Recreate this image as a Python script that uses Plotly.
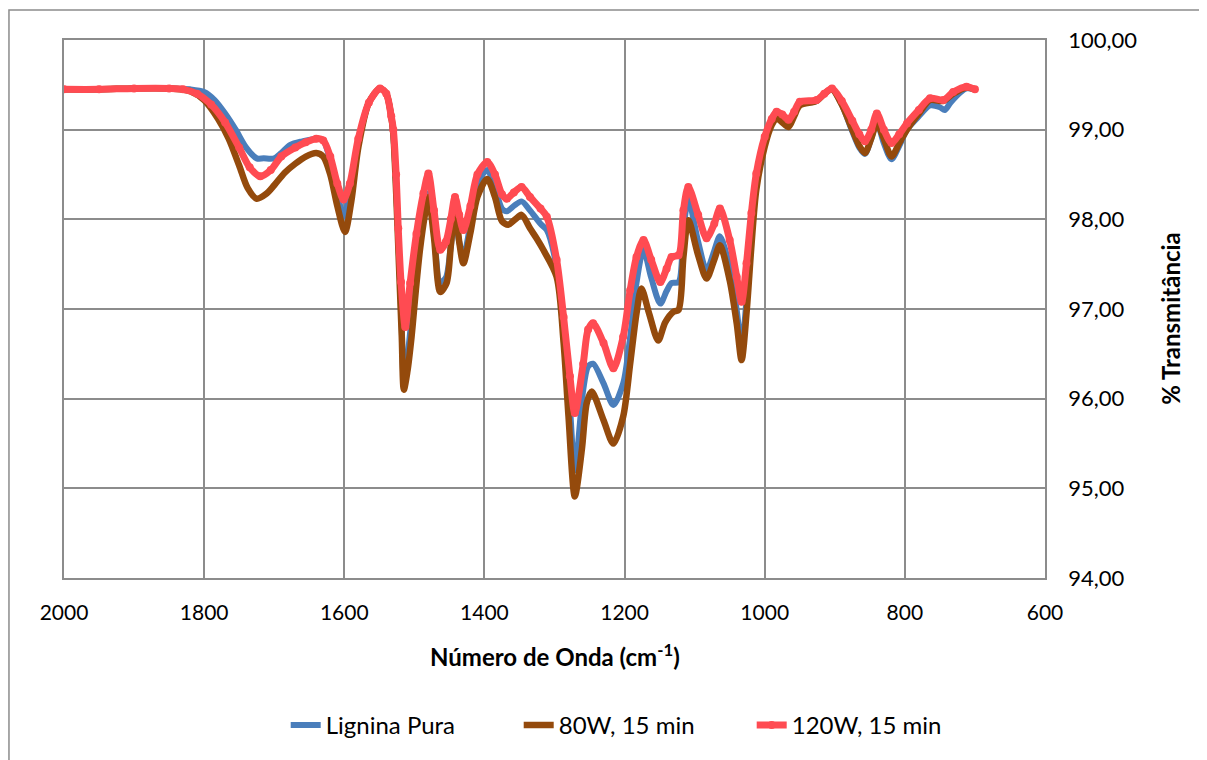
import plotly.graph_objects as go

# Wavenumbers (cm-1) and % transmittance
wn_pura = [2000, 1950, 1900, 1850, 1820, 1800, 1785, 1770, 1755, 1740, 1725, 1715, 1700, 1690, 1677, 1660,
           1640, 1630, 1620, 1610, 1601, 1592, 1580, 1565, 1549, 1540, 1533, 1530, 1526, 1522, 1518, 1515,
           1510, 1504, 1497, 1490, 1480, 1472, 1463, 1455, 1448, 1442, 1436, 1430, 1420, 1410, 1396, 1385,
           1375, 1368, 1358, 1347, 1335, 1320, 1311, 1297, 1287, 1278, 1271, 1259, 1252, 1245, 1230, 1216,
           1202, 1192, 1183, 1173, 1162, 1149, 1140, 1133, 1123, 1116, 1109, 1095, 1083, 1072, 1064, 1050,
           1040, 1033, 1026, 1019, 1012, 1000, 990, 983, 975, 966, 958, 950, 926, 915, 904, 890,
           875, 865, 857, 848, 840, 830, 819, 808, 797, 780, 764, 750, 743, 735, 720, 712, 700]
t_pura = [99.45, 99.45, 99.46, 99.46, 99.45, 99.42, 99.33, 99.18, 99.00, 98.80, 98.68, 98.68, 98.68, 98.74, 98.83, 98.87,
          98.90, 98.88, 98.65, 98.30, 98.03, 98.30, 98.85, 99.30, 99.46, 99.40, 99.15, 98.95, 98.35, 97.60, 96.80, 96.20,
          96.45, 96.90, 97.50, 97.95, 98.29, 97.85, 97.30, 97.35, 97.70, 98.01, 97.75, 97.58, 97.95, 98.40, 98.55, 98.35,
          98.12, 98.09, 98.15, 98.20, 98.10, 97.95, 97.88, 97.47, 96.77, 95.91, 95.20, 96.10, 96.36, 96.39, 96.17, 95.93,
          96.17, 96.69, 97.29, 97.66, 97.35, 97.06, 97.20, 97.29, 97.30, 97.88, 98.22, 97.75, 97.43, 97.65, 97.81, 97.47,
          96.99, 96.58, 97.10, 97.85, 98.40, 98.88, 99.12, 99.20, 99.13, 99.05, 99.17, 99.28, 99.32, 99.40, 99.45, 99.28,
          98.98, 98.80, 98.73, 98.90, 99.08, 98.85, 98.67, 98.82, 99.00, 99.15, 99.27, 99.25, 99.22, 99.30, 99.42, 99.46, 99.45]

wn_80w = [2000, 1950, 1900, 1850, 1820, 1800, 1780, 1765, 1750, 1738, 1725, 1712, 1700, 1685, 1670, 1655,
          1640, 1630, 1620, 1610, 1599, 1590, 1580, 1565, 1549, 1540, 1533, 1530, 1526, 1522, 1518, 1515,
          1510, 1504, 1498, 1492, 1485, 1480, 1472, 1463, 1454, 1448, 1442, 1436, 1430, 1420, 1410, 1396,
          1385, 1375, 1366, 1356, 1347, 1335, 1325, 1316, 1297, 1287, 1280, 1271, 1261, 1254, 1247, 1230,
          1216, 1202, 1192, 1183, 1176, 1165, 1152, 1142, 1130, 1123, 1116, 1109, 1095, 1083, 1072, 1064,
          1050, 1040, 1033, 1026, 1019, 1012, 1000, 990, 983, 975, 966, 958, 950, 926, 915, 904,
          890, 875, 865, 857, 848, 840, 830, 819, 808, 797, 780, 764, 745, 731, 712, 700]
t_80w = [99.45, 99.45, 99.46, 99.46, 99.43, 99.33, 99.12, 98.90, 98.60, 98.35, 98.23, 98.28, 98.38, 98.52, 98.62, 98.70,
         98.74, 98.70, 98.50, 98.15, 97.86, 98.20, 98.80, 99.30, 99.46, 99.40, 99.15, 98.95, 98.30, 97.50, 96.70, 96.10,
         96.30, 96.69, 97.20, 97.66, 98.05, 98.25, 97.80, 97.19, 97.29, 97.70, 98.18, 97.75, 97.51, 97.85, 98.25, 98.45,
         98.25, 97.98, 97.94, 98.00, 98.05, 97.90, 97.78, 97.66, 97.36, 96.62, 95.80, 94.91, 95.43, 95.95, 96.08, 95.76,
         95.50, 95.80, 96.39, 96.95, 97.23, 96.95, 96.65, 96.85, 96.97, 96.99, 97.58, 97.99, 97.60, 97.34, 97.55, 97.71,
         97.32, 96.84, 96.43, 96.95, 97.70, 98.33, 98.81, 99.05, 99.13, 99.08, 99.03, 99.15, 99.27, 99.32, 99.40, 99.45,
         99.28, 99.00, 98.82, 98.74, 98.90, 99.07, 98.90, 98.70, 98.85, 99.00, 99.18, 99.33, 99.32, 99.40, 99.47, 99.45]

wn_120w = [2000, 1950, 1900, 1850, 1830, 1810, 1790, 1770, 1750, 1735, 1720, 1705, 1690, 1670, 1655, 1640,
           1630, 1620, 1610, 1601, 1592, 1580, 1565, 1549, 1540, 1533, 1530, 1526, 1523, 1519, 1513, 1506,
           1497, 1487, 1480, 1472, 1463, 1455, 1448, 1442, 1436, 1430, 1420, 1410, 1396, 1385, 1375, 1368,
           1358, 1347, 1335, 1320, 1311, 1297, 1287, 1278, 1271, 1259, 1252, 1245, 1230, 1216, 1202, 1192,
           1183, 1173, 1162, 1149, 1140, 1133, 1123, 1116, 1109, 1095, 1083, 1072, 1064, 1050, 1040, 1033,
           1026, 1019, 1012, 1000, 990, 983, 975, 966, 958, 950, 926, 915, 904, 890, 875, 865,
           857, 848, 840, 830, 819, 808, 797, 780, 764, 745, 731, 712, 700]
t_120w = [99.45, 99.45, 99.46, 99.46, 99.45, 99.40, 99.28, 99.08, 98.80, 98.58, 98.48, 98.55, 98.70, 98.80, 98.86, 98.90,
          98.88, 98.70, 98.40, 98.22, 98.40, 98.90, 99.30, 99.46, 99.40, 99.15, 99.00, 98.50, 97.90, 97.30, 96.80, 97.29,
          97.84, 98.29, 98.51, 98.10, 97.66, 97.75, 98.00, 98.25, 98.05, 97.88, 98.15, 98.50, 98.64, 98.50, 98.28, 98.23,
          98.30, 98.36, 98.25, 98.12, 98.03, 97.55, 96.91, 96.25, 95.84, 96.39, 96.77, 96.84, 96.62, 96.34, 96.69, 97.21,
          97.58, 97.77, 97.55, 97.30, 97.45, 97.58, 97.60, 98.10, 98.36, 98.05, 97.79, 97.95, 98.12, 97.77, 97.36, 97.08,
          97.51, 98.07, 98.51, 98.92, 99.12, 99.20, 99.17, 99.11, 99.20, 99.31, 99.33, 99.40, 99.46, 99.32, 99.10, 98.95,
          98.87, 99.00, 99.18, 99.00, 98.85, 98.95, 99.07, 99.22, 99.35, 99.33, 99.42, 99.48, 99.45]

names = ["Lignina Pura", "80W, 15 min", "120W, 15 min"]
colors = ["#4A7EBB", "#944A0C", "#FF4B52"]

FONT = "Lato, Carlito, Liberation Sans"

fig = go.Figure()
fig.add_trace(go.Scatter(x=wn_pura, y=t_pura, name=names[0], mode="lines",
                         line=dict(color=colors[0], width=6, shape="spline", smoothing=0.8)))
fig.add_trace(go.Scatter(x=wn_80w, y=t_80w, name=names[1], mode="lines",
                         line=dict(color=colors[1], width=6.5, shape="spline", smoothing=0.8)))
fig.add_trace(go.Scatter(x=wn_120w, y=t_120w, name=names[2], mode="lines+markers",
                         line=dict(color=colors[2], width=7, shape="spline", smoothing=0.8),
                         marker=dict(color=colors[2], size=8, symbol="circle")))

grid = "#8C8C8C"
fig.update_layout(
    width=1207, height=760,
    margin=dict(l=56, r=170, t=32, b=190),
    paper_bgcolor="white", plot_bgcolor="white",
    separators=",.",
    font=dict(family=FONT, size=20, color="black"),
    showlegend=True,
    legend=dict(orientation="h", x=0.226, xanchor="left", y=-0.232, yanchor="top",
                font=dict(size=24, family=FONT), traceorder="normal",
                entrywidth=188, entrywidthmode="pixels"),
    xaxis=dict(range=[2000, 600], tickmode="array", tickvals=[2000, 1800, 1600, 1400, 1200, 1000, 800, 600],
               ticktext=["2000", "1800", "1600", "1400", "1200", "1000", "800", "600"],
               showgrid=True, gridcolor=grid, gridwidth=1.5,
               showline=True, linecolor=grid, linewidth=1.5, mirror=True,
               ticks="", ticklabelstandoff=15, zeroline=False,
               tickfont=dict(size=21, family=FONT)),
    yaxis=dict(range=[94, 100], side="right", tickmode="array", tickvals=[94, 95, 96, 97, 98, 99, 100],
               tickformat=".2f", showgrid=True, gridcolor=grid, gridwidth=1.5,
               showline=True, linecolor=grid, linewidth=1.5, mirror=True,
               ticks="", ticklabelstandoff=17, zeroline=False,
               tickfont=dict(size=22, family=FONT)),
    annotations=[
        dict(text="<b>Número de Onda (cm<sup>-1</sup>)</b>", xref="paper", yref="paper",
             x=0.5, y=-0.143, xanchor="center", yanchor="middle", showarrow=False,
             font=dict(size=24, family=FONT)),
        dict(text="<b>% Transmitância</b>", xref="paper", yref="paper",
             x=1.128, y=0.483, xanchor="center", yanchor="middle", showarrow=False, textangle=-90,
             font=dict(size=24, family=FONT)),
    ],
    shapes=[dict(type="rect", xref="paper", yref="paper", x0=-0.0561, x1=1.17, y0=-0.345, y1=1.0558,
                 line=dict(color=grid, width=1.5), fillcolor="rgba(0,0,0,0)", layer="below")],
)

fig.write_html("out.html")
